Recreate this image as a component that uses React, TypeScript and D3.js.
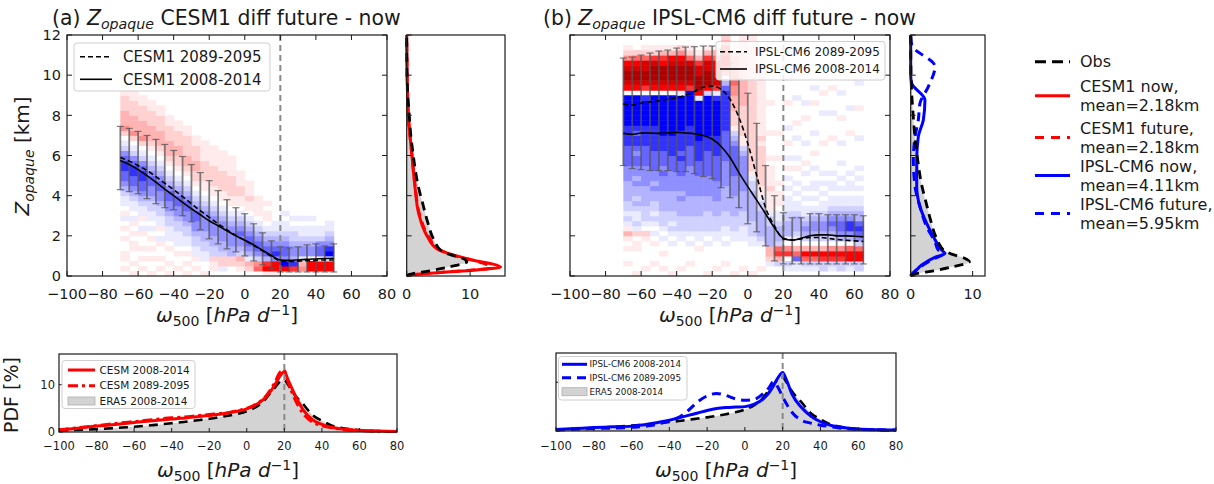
import React from 'react';
import * as d3 from 'd3';

const FONT = "'DejaVu Sans', Verdana, sans-serif";
const INK = '#1a1a1a';
const RED = '#ff0000';
const BLUE = '#0000ff';

// ---------- axis ticks ----------
const omegaTicks = [-100, -80, -60, -40, -20, 0, 20, 40, 60, 80];
const zTicks = [0, 2, 4, 6, 8, 10, 12];
const pdfTicks = [0, 10];

// ---------- heat-map binning ----------
const OMEGA_BIN = 5;
const Z_BIN = 0.25;
const Z_ROWS = 48;
// cell code -> signed colour level: '1'..'9' positive (red), 'a'..'i' negative (blue), '.' zero
const LEVELS = [0, 0.04, 0.09, 0.15, 0.22, 0.3, 0.4, 0.5, 0.65, 0.82];

// ---------- panel (a) CESM1 ----------
const omegaA = [-70, -65, -60, -55, -50, -45, -40, -35, -30, -25, -20, -15, -10, -5, 0, 5, 10, 15, 20, 25, 30, 35, 40, 45, 50];
const nowA = [5.75, 5.55, 5.3, 5.0, 4.67, 4.33, 4.0, 3.67, 3.35, 3.05, 2.75, 2.5, 2.25, 2.0, 1.78, 1.55, 1.28, 1.02, 0.8, 0.78, 0.8, 0.83, 0.85, 0.87, 0.88];
const futA = [5.9, 5.72, 5.5, 5.25, 4.95, 4.62, 4.3, 3.95, 3.6, 3.25, 2.92, 2.6, 2.3, 2.02, 1.78, 1.52, 1.25, 0.98, 0.75, 0.72, 0.74, 0.76, 0.78, 0.8, 0.8];
const errHiA = [7.45, 7.35, 7.2, 7.0, 6.8, 6.55, 6.25, 5.95, 5.55, 5.15, 4.75, 4.25, 3.8, 3.4, 3.1, 2.6, 2.15, 1.75, 1.45, 1.4, 1.45, 1.55, 1.6, 1.5, 1.6];
const errLoA = [4.3, 4.2, 4.1, 3.85, 3.6, 3.4, 3.3, 3.0, 2.7, 2.3, 1.85, 1.6, 1.35, 1.2, 1.0, 0.75, 0.55, 0.35, 0.2, 0.2, 0.2, 0.2, 0.2, 0.2, 0.2];
const heatBinsA = [-70, -65, -60, -55, -50, -45, -40, -35, -30, -25, -20, -15, -10, -5, 0, 5, 10, 15, 20, 25, 30, 35, 40, 45];
// each string: one omega bin, cells from 0 km upward in 0.25 km steps
const heatA = [
  '.1.11..1.1.a1.aabcdeeffedba.2433322211',
  '1.1..11.1.1a.aabcdeeffedba.2433322211',
  '.1.1.1..1a.1aabcdeeffedba.2433322211',
  '1..1.1.1.a.aabbcddeedcba.1233322211',
  '.1.1..1a.1aabbcddeedcba.1233322211',
  '1.1..1.aaabbcddeedcba.1233322211',
  '.1..1.aaabbcddeedcba.1223322211',
  '1.1.1.aabbcddeedcba.1233222211',
  '.1.1aabbcddeedcba.1223322211',
  '1..aabbccddddcba.1122221111',
  '.112bbccddddcba.1122221111',
  '.a22bccddddcba.1122221111',
  '..22ccddddcba.1122221111',
  '.123bcddedcba.1122111',
  '.23acdeedcba.112111',
  '.54bdeedcba.1111',
  '176ceedcba.11.1',
  '177dfedcbaa',
  '.7gdeedcbaa.a',
  '.6fcddcbba.a.',
  '.43addcbaa.a',
  '.77.ddcbaa.a',
  '.771eedbaa..',
  '.77agfdcbaa.',
];

// ---------- panel (b) IPSL-CM6 ----------
const omegaB = [-70, -65, -60, -55, -50, -45, -40, -35, -30, -25, -20, -15, -10, -5, 0, 5, 10, 15, 20, 25, 30, 35, 40, 45, 50, 55, 60, 65];
const nowB = [7.1, 7.05, 7.12, 7.12, 7.1, 7.12, 7.15, 7.12, 7.08, 7.0, 6.82, 6.45, 5.9, 5.15, 4.45, 3.78, 3.1, 2.4, 1.88, 1.78, 1.88, 2.0, 2.05, 2.05, 2.0, 2.0, 1.98, 1.95];
const futB = [8.57, 8.5, 8.6, 8.67, 8.72, 8.8, 8.88, 9.0, 9.18, 9.4, 9.45, 9.3, 8.8, 7.9, 6.6, 5.0, 3.4, 2.5, 1.85, 1.8, 1.85, 1.92, 1.92, 1.88, 1.82, 1.78, 1.75, 1.72];
const errHiB = [10.85, 10.9, 11.0, 11.1, 11.2, 11.25, 11.35, 11.4, 11.42, 11.45, 11.45, 11.3, 10.6, 9.8, 9.1, 7.6, 5.5, 4.0, 3.15, 2.9, 2.9, 3.1, 3.1, 3.05, 3.05, 3.05, 3.05, 3.0];
const errLoB = [5.5, 5.35, 5.3, 5.25, 5.25, 5.25, 5.2, 5.2, 5.1, 4.95, 4.85, 4.4, 3.9, 3.4, 2.6, 2.2, 1.5, 0.75, 0.6, 0.6, 0.6, 0.6, 0.6, 0.6, 0.6, 0.6, 0.6, 0.6];
const heatBinsB = [-70, -65, -60, -55, -50, -45, -40, -35, -30, -25, -20, -15, -10, -5, 0, 5, 10, 15, 20, 25, 30, 35, 40, 45, 50, 55, 60];
const heatB = [
  '..1..1.131ababbccccdddeeeeffffgggggg.789987421',
  '1....11.2abaabcbccdcddeedeffefgggggg.78998752.',
  '.1.....12.abbbccccddddeeeeffffgggggf.689988521',
  '..1...1.a.ababbccdcddeeeefffffgggggg.789998621',
  '.1..1..a.abbbccccdddedeeefffgggggggg.789997631',
  '1.....a.ababbccccddddeeeffffgggggggg.789998731',
  '.1.....aabbbcccdcdddeeefeffffggggggga789998742',
  '..1...a.abbbccccddddddeeeeffffggggggg689998521',
  '.....1.aabbbccccddddeeeffffgggggggga799988631',
  '1.....a.abbbbcccddddeeeeefffggggggggb799988631',
  '.1.....aabbbcccddddeeeeeffffgggggggfa68887753',
  '..1...a.aabbbcccccdddddeeeeeeffffffffeca56776642',
  '1......aabbbccccddddeeeeeedcb12223334455544431',
  '.1.....aaabbbccccdddddddcb1122222233333333333221',
  '1.....aabbbccccccbba1222222222222222222222222211',
  '.1....abcccccbba11222222221211111111111222111',
  '..a233ccccbba111121111.1....1.....1',
  '..b365bcccbaa.111.1....1....1',
  '.ab.64.acccbbaaa.a.a.1.a..1..a....1....a..1',
  '.aae53.abcccbaa.a.a..1.a...a..1....a....1',
  '.ab573.bcdcbaa.a.a..a.1...a....1..a.....1',
  '.ab573.bcddcba.a.aa..a..1...a.....1..a',
  '.bb673.bcddcbaa.a.a.a.....1.....a...1....a',
  '.ab674.bcdedcbaa.aa.a......1....a....1....a',
  '.bb674.cdeedcbaa.a.a..a...a....1....a......1',
  '.ab775.cdffdcbaa.aa.a.......1....a.....1....a',
  '.bb775bdefeccbaa.a.a.a.....a.....1....a......1',
];

// ---------- side PDFs of Z_opaque ----------
const obsKm = [0, 0.08, 0.26, 0.46, 0.71, 0.9, 1.1, 1.3, 1.6, 2.0, 2.8, 3.7, 4.5, 5.4, 6.1, 7.0, 7.9, 9.1, 10, 12];
const obsPdf = [0, 0.5, 3.7, 6.8, 9.5, 8.6, 6.5, 5.3, 4.6, 4.0, 3.2, 2.45, 1.8, 1.3, 1.0, 0.65, 0.43, 0.16, 0.05, 0];
const cesmNowKm = [0, 0.05, 0.17, 0.3, 0.45, 0.6, 0.75, 1.0, 1.35, 2.0, 3.1, 4.45, 6.1, 7.8, 9.5, 11, 12];
const cesmNowPdf = [0, 0.5, 5.3, 11.0, 14.8, 13.5, 11.0, 7.9, 4.8, 3.2, 1.9, 1.3, 0.8, 0.3, 0.1, 0.03, 0];
const cesmFutKm = [0, 0.05, 0.15, 0.28, 0.4, 0.55, 0.75, 1.0, 1.35, 2.0, 3.1, 4.45, 6.1, 7.8, 9.5, 11, 12];
const cesmFutPdf = [0, 0.3, 4.0, 9.5, 13.3, 12.8, 10.8, 7.6, 5.0, 3.4, 2.0, 1.35, 0.8, 0.3, 0.1, 0.03, 0];
const ipslNowKm = [0, 0.05, 0.13, 0.55, 0.93, 1.12, 1.29, 1.96, 2.62, 3.45, 4.45, 5.77, 6.94, 7.77, 8.76, 9.6, 10, 12];
const ipslNowPdf = [0, 0.1, 0.43, 1.77, 3.9, 5.53, 5.0, 3.66, 2.58, 1.5, 0.97, 0.97, 1.23, 2.04, 2.3, 0.15, 0, 0];
const ipslFutKm = [0, 0.05, 0.38, 0.8, 1.12, 1.29, 1.7, 2.45, 3.45, 4.45, 5.77, 6.94, 7.77, 8.6, 9.43, 10.43, 11.5, 12];
const ipslFutPdf = [0, 0.1, 1.23, 3.39, 5.27, 4.46, 3.92, 2.58, 1.5, 0.7, 0.43, 0.7, 1.23, 1.5, 2.85, 3.92, 0.16, 0];

// ---------- bottom PDFs of omega500 ----------
const pdfOmega = [-100, -90, -80, -70, -60, -50, -40, -35, -30, -25, -20, -15, -10, -5, 0, 5, 10, 13, 15, 17, 18, 20, 22, 25, 30, 35, 40, 45, 50, 60, 70, 80];
const era5Pdf = [0.3, 0.45, 0.6, 0.85, 1.1, 1.45, 1.85, 2.05, 2.3, 2.55, 2.8, 3.1, 3.45, 3.85, 4.4, 5.3, 7.0, 8.5, 9.4, 10.4, 10.8, 11.0, 10.0, 8.1, 5.9, 3.6, 2.4, 1.4, 0.9, 0.4, 0.2, 0.1];
const cesmNowW = [0.4, 0.8, 1.25, 1.6, 2.0, 2.4, 2.75, 2.9, 3.1, 3.3, 3.5, 3.75, 4.0, 4.4, 4.9, 5.8, 7.3, 8.8, 10.0, 11.4, 12.0, 12.8, 11.0, 8.4, 4.7, 2.6, 1.6, 1.0, 0.7, 0.35, 0.2, 0.1];
const cesmFutW = [0.45, 0.9, 1.35, 1.8, 2.2, 2.6, 3.0, 3.15, 3.3, 3.5, 3.7, 3.9, 4.1, 4.5, 5.0, 5.9, 7.5, 9.2, 10.5, 12.2, 12.8, 13.0, 10.5, 7.5, 3.9, 2.1, 1.3, 0.9, 0.6, 0.3, 0.15, 0.1];
const ipslNowW = [0.3, 0.5, 0.7, 0.85, 1.0, 1.5, 2.2, 2.7, 3.2, 3.7, 4.2, 4.6, 4.8, 4.9, 5.0, 5.5, 6.7, 8.0, 9.2, 10.6, 11.2, 12.0, 10.5, 7.5, 4.8, 3.0, 1.9, 1.2, 0.8, 0.4, 0.25, 0.2];
const ipslFutW = [0.2, 0.35, 0.5, 0.6, 0.75, 1.1, 2.1, 2.8, 4.2, 6.0, 7.2, 7.7, 7.3, 6.6, 6.3, 6.5, 7.8, 9.0, 10.1, 9.3, 8.6, 7.0, 5.6, 3.8, 2.2, 1.6, 1.2, 0.9, 0.6, 0.35, 0.25, 0.2];

// ---------- legend texts ----------
const legendA = ['CESM1 2089-2095', 'CESM1 2008-2014'];
const legendB = ['IPSL-CM6 2089-2095', 'IPSL-CM6 2008-2014'];
const legendBotA = ['CESM 2008-2014', 'CESM 2089-2095', 'ERA5 2008-2014'];
const legendBotB = ['IPSL-CM6 2008-2014', 'IPSL-CM6 2089-2095', 'ERA5 2008-2014'];
const figLegend = [
  ['Obs'],
  ['CESM1 now,', 'mean=2.18km'],
  ['CESM1 future,', 'mean=2.18km'],
  ['IPSL-CM6 now,', 'mean=4.11km'],
  ['IPSL-CM6 future,', 'mean=5.95km'],
];

// ===================================================
const seismic = d3.scaleLinear<string>()
  .domain([-1, -0.5, 0, 0.5, 1])
  .range(['#00004d', '#0000ff', '#ffffff', '#ff0000', '#800000'])
  .clamp(true);

function cellValue(ch: string): number {
  if (ch >= '1' && ch <= '9') return LEVELS[+ch];
  const k = 'abcdefghi'.indexOf(ch);
  if (k >= 0) return -LEVELS[k + 1];
  return 0;
}

const fmt = (t: number) => (t < 0 ? '\u2212' + Math.abs(t) : String(t));

function Heat({ cols, bins, xs, ys }: any) {
  const rects: any[] = [];
  cols.forEach((s: string, c: number) => {
    const col = s.padEnd(Z_ROWS, '.');
    const xl = xs(bins[c]);
    const xr = xs(bins[c] + OMEGA_BIN);
    for (let i = 0; i < Z_ROWS; i++) {
      const v = cellValue(col[i]);
      if (v === 0) continue;
      const yt = ys(Z_BIN * (i + 1));
      const yb = ys(Z_BIN * i);
      rects.push(
        <rect key={c + '-' + i} x={xl} y={yt} width={xr - xl + 0.5} height={yb - yt + 0.5} fill={seismic(v)} />
      );
    }
  });
  return <g filter="url(#soft)">{rects}</g>;
}

function OmegaLabel({ x, y, size }: any) {
  return (
    <text x={x} y={y} textAnchor="middle" fontSize={size} fontFamily={FONT} fill={INK}>
      <tspan fontStyle="italic">ω</tspan>
      <tspan fontSize={size * 0.7} dy={size * 0.2}>500</tspan>
      <tspan dy={-size * 0.2}> [</tspan>
      <tspan fontStyle="italic">hPa</tspan>
      <tspan> </tspan>
      <tspan fontStyle="italic">d</tspan>
      <tspan fontSize={size * 0.7} dy={-size * 0.36}>{'\u22121'}</tspan>
      <tspan dy={size * 0.36}>]</tspan>
    </text>
  );
}

function Ticks({ xs, ys, xT, yT, sides, len }: any) {
  const [x0, x1] = xs.range();
  const yb = ys.range()[0];
  const yt = ys.range()[1];
  const out: any[] = [];
  xT.forEach((t: number) => {
    const x = xs(t);
    if (sides.includes('b')) out.push(<line key={'b' + t} x1={x} x2={x} y1={yb} y2={yb - len} stroke={INK} strokeWidth={1} />);
    if (sides.includes('t')) out.push(<line key={'t' + t} x1={x} x2={x} y1={yt} y2={yt + len} stroke={INK} strokeWidth={1} />);
  });
  yT.forEach((t: number) => {
    const y = ys(t);
    if (sides.includes('l')) out.push(<line key={'l' + t} x1={x0} x2={x0 + len} y1={y} y2={y} stroke={INK} strokeWidth={1} />);
    if (sides.includes('r')) out.push(<line key={'r' + t} x1={x1} x2={x1 - len} y1={y} y2={y} stroke={INK} strokeWidth={1} />);
  });
  return <g>{out}</g>;
}

function Frame({ xs, ys }: any) {
  const [x0, x1] = xs.range();
  const [yb, yt] = ys.range();
  return <rect x={x0} y={yt} width={x1 - x0} height={yb - yt} fill="none" stroke={INK} strokeWidth={1.2} />;
}

function MainPanel({ id, xs, ys, cols, bins, omega, now, fut, lo, hi, leg, labels }: any) {
  const [x0, x1] = xs.range();
  const [yb, yt] = ys.range();
  const line = d3.line<number>().x((_, i) => xs(omega[i])).y((d) => ys(d)).curve(d3.curveMonotoneX);
  return (
    <g>
      <clipPath id={id}>
        <rect x={x0} y={yt} width={x1 - x0} height={yb - yt} />
      </clipPath>
      <g clipPath={`url(#${id})`}>
        <Heat cols={cols} bins={bins} xs={xs} ys={ys} />
      </g>
      <line x1={xs(20)} x2={xs(20)} y1={yt} y2={yb} stroke="#8a8a8a" strokeWidth={2} strokeDasharray="6,4" />
      <g stroke="#555" strokeOpacity={0.75} strokeWidth={1.8}>
        {omega.map((w: number, i: number) => (
          <g key={i}>
            <line x1={xs(w)} x2={xs(w)} y1={ys(lo[i])} y2={ys(hi[i])} />
            <line x1={xs(w) - 3.5} x2={xs(w) + 3.5} y1={ys(lo[i])} y2={ys(lo[i])} strokeWidth={1.2} />
            <line x1={xs(w) - 3.5} x2={xs(w) + 3.5} y1={ys(hi[i])} y2={ys(hi[i])} strokeWidth={1.2} />
          </g>
        ))}
      </g>
      <path d={line(now) || ''} fill="none" stroke="#000" strokeWidth={1.6} />
      <path d={line(fut) || ''} fill="none" stroke="#000" strokeWidth={1.6} strokeDasharray="5,3" />
      <Frame xs={xs} ys={ys} />
      <Ticks xs={xs} ys={ys} xT={omegaTicks} yT={zTicks} sides="lrtb" len={5} />
      <rect x={leg.x} y={leg.y} width={leg.w} height={leg.h} rx={3} fill="#fff" fillOpacity={0.85} stroke="#cfcfcf" />
      <line x1={leg.lx0} x2={leg.lx1} y1={leg.r0} y2={leg.r0} stroke="#000" strokeWidth={1.6} strokeDasharray="5,3" />
      <line x1={leg.lx0} x2={leg.lx1} y1={leg.r1} y2={leg.r1} stroke="#000" strokeWidth={1.6} />
      <text x={leg.tx} y={leg.r0} dy="0.36em" fontSize={leg.fs} fontFamily={FONT} fill={INK}>{labels[0]}</text>
      <text x={leg.tx} y={leg.r1} dy="0.36em" fontSize={leg.fs} fontFamily={FONT} fill={INK}>{labels[1]}</text>
      {omegaTicks.map((t) => (
        <text key={t} x={xs(t)} y={299} textAnchor="middle" fontSize={14.5} fontFamily={FONT} fill={INK}>{fmt(t)}</text>
      ))}
    </g>
  );
}

function SidePanel({ sx, ys, curves }: any) {
  const [x0, x1] = sx.range();
  const [yb, yt] = ys.range();
  const area = d3.area<number>().y((_, i) => ys(obsKm[i])).x0(sx(0)).x1((d) => sx(d)).curve(d3.curveMonotoneY);
  const obsLine = d3.line<number>().y((_, i) => ys(obsKm[i])).x((d) => sx(d)).curve(d3.curveMonotoneY);
  return (
    <g>
      <path d={area(obsPdf) || ''} fill="#d3d3d3" />
      {curves.map((c: any, k: number) => {
        const ln = d3.line<number>().y((_, i) => ys(c.km[i])).x((d) => sx(d)).curve(d3.curveMonotoneY);
        return <path key={k} d={ln(c.pdf) || ''} fill="none" stroke={c.color} strokeWidth={3} strokeDasharray={c.dash} />;
      })}
      <path d={obsLine(obsPdf) || ''} fill="none" stroke="#000" strokeWidth={2.8} strokeDasharray="9,6" />
      <rect x={x0} y={yt} width={x1 - x0} height={yb - yt} fill="none" stroke={INK} strokeWidth={1.2} />
      <Ticks xs={sx} ys={ys} xT={pdfTicks} yT={zTicks} sides="lb" len={5} />
      {pdfTicks.map((t) => (
        <text key={t} x={sx(t)} y={299} textAnchor="middle" fontSize={14.5} fontFamily={FONT} fill={INK}>{t}</text>
      ))}
    </g>
  );
}

function BottomPanel({ bx, by, series, yLabels, leg }: any) {
  const [x0, x1] = bx.range();
  const [yb, yt] = by.range();
  const area = d3.area<number>().x((_, i) => bx(pdfOmega[i])).y0(by(0)).y1((d) => by(d)).curve(d3.curveMonotoneX);
  const ln = d3.line<number>().x((_, i) => bx(pdfOmega[i])).y((d) => by(d)).curve(d3.curveMonotoneX);
  return (
    <g>
      <path d={area(era5Pdf) || ''} fill="#d3d3d3" />
      <path d={ln(era5Pdf) || ''} fill="none" stroke="#000" strokeWidth={2.6} strokeDasharray="9,6" />
      {series.map((s: any, k: number) => (
        <path key={k} d={ln(s.v) || ''} fill="none" stroke={s.color} strokeWidth={3} strokeDasharray={s.dash} />
      ))}
      <line x1={bx(20)} x2={bx(20)} y1={yt} y2={yb} stroke="#8a8a8a" strokeWidth={2} strokeDasharray="6,4" />
      <rect x={x0} y={yt} width={x1 - x0} height={yb - yt} fill="none" stroke={INK} strokeWidth={1.2} />
      <Ticks xs={bx} ys={by} xT={omegaTicks} yT={pdfTicks} sides="lb" len={4} />
      {omegaTicks.map((t) => (
        <text key={t} x={bx(t)} y={450} textAnchor="middle" fontSize={11.5} fontFamily={FONT} fill={INK}>{fmt(t)}</text>
      ))}
      {yLabels && pdfTicks.map((t) => (
        <text key={t} x={x0 - 4} y={by(t)} dy="0.36em" textAnchor="end" fontSize={11.5} fontFamily={FONT} fill={INK}>{t}</text>
      ))}
      <rect x={leg.x} y={leg.y} width={leg.w} height={leg.h} rx={3} fill="#fff" fillOpacity={0.85} stroke="#cfcfcf" />
      {series.map((s: any, k: number) => (
        <line key={k} x1={leg.lx0} x2={leg.lx1} y1={leg.rows[k]} y2={leg.rows[k]} stroke={s.color} strokeWidth={3} strokeDasharray={s.dash} />
      ))}
      <rect x={leg.lx0} y={leg.rows[2] - 4} width={leg.lx1 - leg.lx0} height={8} fill="#d3d3d3" stroke="#b0b0b0" strokeWidth={0.8} />
      {leg.labels.map((t: string, k: number) => (
        <text key={k} x={leg.tx} y={leg.rows[k]} dy="0.36em" fontSize={leg.fs} fontFamily={FONT} fill={INK}>{t}</text>
      ))}
    </g>
  );
}

export default function App() {
  const yM = d3.scaleLinear().domain([0, 12]).range([276, 35]);
  const xA = d3.scaleLinear().domain([-100, 80]).range([67, 387]);
  const sxA = d3.scaleLinear().domain([0, 15.5]).range([406.7, 505]);
  const xB = d3.scaleLinear().domain([-100, 80]).range([570, 890]);
  const sxB = d3.scaleLinear().domain([0, 12]).range([910.7, 985]);
  const bxA = d3.scaleLinear().domain([-100, 80]).range([59, 397]);
  const byA = d3.scaleLinear().domain([0, 16.5]).range([432, 354]);
  const bxB = d3.scaleLinear().domain([-100, 80]).range([556, 896]);
  const byB = d3.scaleLinear().domain([0, 16]).range([431, 353]);

  const figStyles = [
    { color: '#000', dash: '11,6' },
    { color: RED, dash: undefined },
    { color: RED, dash: '9,7' },
    { color: BLUE, dash: undefined },
    { color: BLUE, dash: '9,7' },
  ];
  const figRows = [61.7, 95.7, 137.5, 175.5, 213.5];

  return (
    <svg width={1214} height={484} style={{ position: 'absolute', left: 0, top: 0, background: '#fff' }}>
      <defs>
        <filter id="soft" x="-2%" y="-2%" width="104%" height="104%">
          <feGaussianBlur stdDeviation="0.6" />
        </filter>
      </defs>
      <rect width={1214} height={484} fill="#fff" />

      {/* titles */}
      <text x={52} y={25} fontSize={20.4} fontFamily={FONT} fill={INK}>
        (a) <tspan fontStyle="italic">Z</tspan>
        <tspan fontStyle="italic" fontSize={14.2} dy={4}>opaque</tspan>
        <tspan dy={-4}> CESM1 diff future - now</tspan>
      </text>
      <text x={543} y={25} fontSize={20.4} fontFamily={FONT} fill={INK}>
        (b) <tspan fontStyle="italic">Z</tspan>
        <tspan fontStyle="italic" fontSize={14.2} dy={4}>opaque</tspan>
        <tspan dy={-4}> IPSL-CM6 diff future - now</tspan>
      </text>

      {/* y label */}
      <text transform="translate(29,156) rotate(-90)" textAnchor="middle" fontSize={20} fontFamily={FONT} fill={INK}>
        <tspan fontStyle="italic">Z</tspan>
        <tspan fontStyle="italic" fontSize={14} dy={4.5}>opaque</tspan>
        <tspan dy={-4.5}> [km]</tspan>
      </text>
      {zTicks.map((t) => (
        <text key={t} x={61} y={yM(t)} dy="0.36em" textAnchor="end" fontSize={14.5} fontFamily={FONT} fill={INK}>{t}</text>
      ))}

      <MainPanel id="clipA" xs={xA} ys={yM} cols={heatA} bins={heatBinsA} omega={omegaA} now={nowA} fut={futA}
        lo={errLoA} hi={errHiA} labels={legendA}
        leg={{ x: 74, y: 43, w: 196, h: 48, lx0: 80, lx1: 112, r0: 56.7, r1: 79.3, tx: 123, fs: 15 }} />
      <MainPanel id="clipB" xs={xB} ys={yM} cols={heatB} bins={heatBinsB} omega={omegaB} now={nowB} fut={futB}
        lo={errLoB} hi={errHiB} labels={legendB}
        leg={{ x: 716, y: 41.5, w: 169, h: 38.5, lx0: 720, lx1: 747, r0: 51.7, r1: 69, tx: 755, fs: 12 }} />

      <SidePanel sx={sxA} ys={yM} curves={[
        { km: cesmNowKm, pdf: cesmNowPdf, color: RED },
        { km: cesmFutKm, pdf: cesmFutPdf, color: RED, dash: '9,6' },
      ]} />
      <SidePanel sx={sxB} ys={yM} curves={[
        { km: ipslNowKm, pdf: ipslNowPdf, color: BLUE },
        { km: ipslFutKm, pdf: ipslFutPdf, color: BLUE, dash: '9,6' },
      ]} />

      <OmegaLabel x={227} y={322} size={20} />
      <OmegaLabel x={730} y={322} size={20} />

      {/* figure legend */}
      {figLegend.map((lines, k) => (
        <g key={k}>
          <line x1={1035} x2={1070} y1={figRows[k]} y2={figRows[k]} stroke={figStyles[k].color} strokeWidth={3} strokeDasharray={figStyles[k].dash} />
          {lines.map((t, j) => (
            <text key={j} x={1080} y={figRows[k] + (lines.length === 1 ? 0 : (j === 0 ? -9.5 : 9.5))} dy="0.36em"
              fontSize={16} fontFamily={FONT} fill={INK}>{t}</text>
          ))}
        </g>
      ))}

      {/* bottom panels */}
      <text transform="translate(18,395) rotate(-90)" textAnchor="middle" fontSize={19} fontFamily={FONT} fill={INK}>PDF [%]</text>
      <BottomPanel bx={bxA} by={byA} yLabels={true}
        series={[{ v: cesmNowW, color: RED }, { v: cesmFutW, color: RED, dash: '10,4,3,4' }]}
        leg={{ x: 62, y: 360.5, w: 133, h: 48, lx0: 68, lx1: 95, rows: [370, 385.7, 401], tx: 99.5, fs: 10.5, labels: legendBotA }} />
      <BottomPanel bx={bxB} by={byB} yLabels={false}
        series={[{ v: ipslNowW, color: BLUE }, { v: ipslFutW, color: BLUE, dash: '9,6' }]}
        leg={{ x: 558.5, y: 356.5, w: 128.5, h: 43.5, lx0: 562, lx1: 587, rows: [364.3, 377.8, 391.7], tx: 589.5, fs: 8.8, labels: legendBotB }} />
      <OmegaLabel x={228} y={477} size={20} />
      <OmegaLabel x={726} y={477} size={20} />
    </svg>
  );
}
